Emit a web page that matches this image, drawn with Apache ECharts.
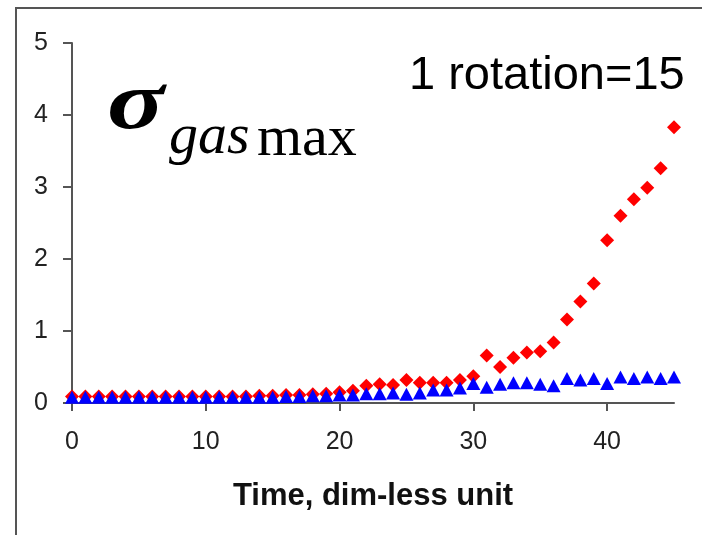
<!DOCTYPE html>
<html>
<head>
<meta charset="utf-8">
<script src="https://cdn.jsdelivr.net/npm/echarts@6/dist/echarts.min.js"></script>
<style>
  html, body { margin: 0; padding: 0; background: #fff; }
  #container { width: 702px; height: 535px; }
</style>
</head>
<body>
<div id="container"></div>
<script>
// time steps 0..45
let timeSteps = [];
for (let i = 0; i <= 45; i++) timeSteps.push(i);
// red diamonds
let redValues = [0.09, 0.09, 0.09, 0.09, 0.09, 0.09, 0.09, 0.09, 0.09, 0.09,
    0.09, 0.09, 0.09, 0.09, 0.10, 0.10, 0.11, 0.11, 0.12, 0.13,
    0.15, 0.17, 0.24, 0.26, 0.25, 0.32, 0.28, 0.28, 0.28, 0.32,
    0.37, 0.66, 0.50, 0.63, 0.70, 0.72, 0.84, 1.16, 1.41, 1.66,
    2.26, 2.60, 2.83, 2.99, 3.26, 3.83];
// blue triangles
let blueValues = [0.08, 0.08, 0.08, 0.08, 0.08, 0.08, 0.08, 0.08, 0.08, 0.08,
    0.08, 0.08, 0.08, 0.08, 0.08, 0.08, 0.09, 0.09, 0.10, 0.10,
    0.11, 0.11, 0.13, 0.13, 0.14, 0.12, 0.14, 0.18, 0.18, 0.21,
    0.27, 0.22, 0.26, 0.28, 0.28, 0.26, 0.24, 0.34, 0.32, 0.34,
    0.27, 0.36, 0.34, 0.36, 0.34, 0.36];
let xTicks = [0, 10, 20, 30, 40];
let yTicks = [0, 1, 2, 3, 4, 5];

let dom = document.getElementById('container');
let myChart = echarts.init(dom, null, { renderer: 'canvas' });

let axisColor = '#555';
let labelStyle = {
    color: '#222',
    fontFamily: 'Liberation Sans',
    fontSize: 25
};

let option = {
    animation: false,
    grid: {
        left: 72,
        right: 28,
        top: 43,
        bottom: 132,
        containLabel: false
    },
    xAxis: {
        type: 'value',
        min: 0,
        max: 45,
        interval: 10,
        name: 'Time, dim-less unit',
        nameLocation: 'middle',
        nameGap: 78,
        nameTextStyle: {
            color: '#111',
            fontFamily: 'Liberation Sans',
            fontWeight: 'bold',
            fontSize: 31
        },
        axisLine: { show: true, onZero: false, lineStyle: { color: axisColor, width: 2 } },
        axisTick: { show: true, length: 8, customValues: xTicks, lineStyle: { color: axisColor, width: 2 } },
        axisLabel: Object.assign({ margin: 27, customValues: xTicks }, labelStyle),
        splitLine: { show: false }
    },
    yAxis: {
        type: 'value',
        min: 0,
        max: 5,
        interval: 1,
        axisLine: { show: true, onZero: false, lineStyle: { color: axisColor, width: 2 } },
        axisTick: { show: true, length: 9, customValues: yTicks, lineStyle: { color: axisColor, width: 2 } },
        axisLabel: Object.assign({ margin: 24, customValues: yTicks }, labelStyle),
        splitLine: { show: false }
    },
    graphic: [
        {
            type: 'polyline',
            shape: { points: [[16, 535], [16, 8], [702, 8]] },
            style: { stroke: '#555', lineWidth: 2, fill: null }
        },
        {
            type: 'text',
            left: 409,
            top: 53,
            style: {
                text: '1 rotation=15',
                fontFamily: 'Liberation Sans',
                fontSize: 47,
                fill: '#000'
            }
        },
        {
            type: 'text',
            x: 107,
            y: 148,
            scaleX: 1.3,
            style: {
                text: 'σ',
                fontFamily: 'Liberation Serif',
                fontStyle: 'italic',
                fontWeight: 'bold',
                fontSize: 82,
                verticalAlign: 'bottom',
                fill: '#000'
            }
        },
        {
            type: 'text',
            x: 169,
            y: 167,
            style: {
                text: 'gas',
                fontFamily: 'Liberation Serif',
                fontStyle: 'italic',
                fontSize: 58,
                verticalAlign: 'bottom',
                fill: '#000'
            }
        },
        {
            type: 'text',
            x: 257,
            y: 169,
            style: {
                text: 'max',
                fontFamily: 'Liberation Serif',
                fontSize: 58,
                verticalAlign: 'bottom',
                fill: '#000'
            }
        }
    ],
    series: [
        {
            type: 'scatter',
            symbol: 'diamond',
            symbolSize: 14,
            itemStyle: { color: '#ff0000', opacity: 1 },
            data: timeSteps.map((t, i) => [t, redValues[i]])
        },
        {
            type: 'scatter',
            symbol: 'triangle',
            symbolSize: [14, 13],
            itemStyle: { color: '#0000ff', opacity: 1 },
            data: timeSteps.map((t, i) => [t, blueValues[i]])
        }
    ]
};
myChart.setOption(option);
</script>
</body>
</html>
